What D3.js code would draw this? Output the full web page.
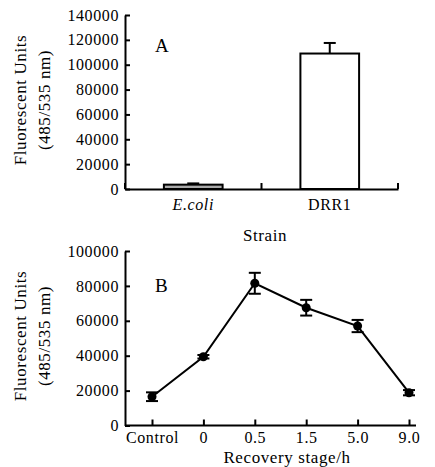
<!DOCTYPE html>
<html>
<head>
<meta charset="utf-8">
<title>Fluorescent units</title>
<script src="https://cdn.jsdelivr.net/npm/d3@7"></script>
<style>
  body { margin: 0; background: #fff; }
</style>
</head>
<body>
<script>
  // panel A data
  const strains = ['E.coli', 'DRR1'];
  const strainValues = [3500, 109000];
  const strainErrors = [1000, 8500];
  const ticksA = [0, 20000, 40000, 60000, 80000, 100000, 120000, 140000];

  // panel B data
  const stages = ['Control', '0', '0.5', '1.5', '5.0', '9.0'];
  const stageValues = [16500, 39400, 81500, 67500, 57000, 18800];
  const stageErrors = [2500, 1000, 6000, 4500, 3500, 1500];
  const ticksB = [0, 20000, 40000, 60000, 80000, 100000];

  const width = 435, height = 467;
  const font = "'Liberation Serif', 'Times New Roman', 'DejaVu Serif', serif";
  const svg = d3.select('body').append('svg')
    .attr('width', width)
    .attr('height', height)
    .attr('font-family', font);

  const fs = 16;

  function styleAxis(g) {
    g.attr('font-family', font);
    g.selectAll('path, line').attr('stroke', '#000').attr('stroke-width', 2);
    g.selectAll('text')
      .style('font-family', font)
      .style('font-size', fs + 'px')
      .style('letter-spacing', '0.6px')
      .attr('fill', '#000');
  }

  function label(x, y, txt, size, anchor) {
    return svg.append('text').attr('x', x).attr('y', y)
      .attr('text-anchor', anchor || 'start')
      .style('font-family', font)
      .style('font-size', size + 'px')
      .style('letter-spacing', '0.6px')
      .text(txt);
  }

  function yTitle(cy) {
    const t = svg.append('g').attr('transform', `translate(0, ${cy}) rotate(-90)`);
    [['Fluorescent Units', 26], ['(485/535 nm)', 50]].forEach(([txt, y]) => {
      t.append('text').attr('x', 0).attr('y', y)
        .attr('text-anchor', 'middle')
        .style('font-family', font)
        .style('font-size', '17px').style('letter-spacing', '0.6px')
        .text(txt);
    });
  }

  // ---------- panel A ----------
  const left = 125;
  const yA = d3.scaleLinear().domain([0, 140000]).range([189, 15]);
  const xA = d3.scaleBand().domain(strains).range([left, 398]);
  const bw = xA.bandwidth();
  const barW = bw * 0.43;

  svg.append('g')
    .attr('transform', `translate(${left},0)`)
    .call(d3.axisLeft(yA).tickValues(ticksA).tickFormat(d3.format('d'))
      .tickSizeInner(-5).tickSizeOuter(0).tickPadding(6))
    .call(styleAxis);

  const gxA = svg.append('g')
    .attr('transform', `translate(0,${yA(0)})`)
    .call(d3.axisBottom(xA).tickSizeInner(0).tickSizeOuter(0).tickPadding(10))
    .call(styleAxis);
  gxA.selectAll('.tick text')
    .style('font-style', d => d === 'E.coli' ? 'italic' : 'normal');

  // ticks on band edges
  const edges = [xA.range()[0]].concat(strains.map(d => xA(d) + bw));
  svg.selectAll('.edgeA').data(edges).enter().append('line')
    .attr('x1', d => d).attr('x2', d => d)
    .attr('y1', yA(0)).attr('y2', yA(0) - 6)
    .attr('stroke', '#000').attr('stroke-width', 2);

  const barsA = strains.map((s, i) => ({ s, v: strainValues[i], e: strainErrors[i] }));

  svg.selectAll('.errA').data(barsA).enter().append('line')
    .attr('x1', d => xA(d.s) + bw / 2).attr('x2', d => xA(d.s) + bw / 2)
    .attr('y1', d => yA(d.v)).attr('y2', d => yA(d.v + d.e))
    .attr('stroke', '#000').attr('stroke-width', 2);
  svg.selectAll('.capA').data(barsA).enter().append('line')
    .attr('x1', d => xA(d.s) + bw / 2 - 6).attr('x2', d => xA(d.s) + bw / 2 + 6)
    .attr('y1', d => yA(d.v + d.e)).attr('y2', d => yA(d.v + d.e))
    .attr('stroke', '#000').attr('stroke-width', 2);

  svg.selectAll('.barA').data(barsA).enter().append('rect')
    .attr('x', d => xA(d.s) + (bw - barW) / 2)
    .attr('width', barW)
    .attr('y', d => yA(d.v))
    .attr('height', d => yA(0) - yA(d.v))
    .attr('fill', (d, i) => i === 0 ? '#aaaaaa' : '#ffffff')
    .attr('stroke', '#000').attr('stroke-width', 2);

  label(155, 52, 'A', 19);
  label(265, 241, 'Strain', 17, 'middle');
  yTitle(100);

  // ---------- panel B ----------
  const yB = d3.scaleLinear().domain([0, 100000]).range([425.5, 251]);
  const xB = d3.scalePoint().domain(stages).range([152, 409]);

  svg.append('g')
    .attr('transform', `translate(${left},0)`)
    .call(d3.axisLeft(yB).tickValues(ticksB).tickFormat(d3.format('d'))
      .tickSizeInner(-5).tickSizeOuter(0).tickPadding(6))
    .call(styleAxis);

  const gxB = svg.append('g')
    .attr('transform', `translate(0,${yB(0)})`)
    .call(d3.axisBottom(xB).tickSizeInner(-6).tickSizeOuter(0).tickPadding(6))
    .call(styleAxis);
  gxB.select('.domain').remove();
  gxB.append('line')
    .attr('x1', left).attr('x2', 416)
    .attr('y1', 0).attr('y2', 0)
    .attr('stroke', '#000').attr('stroke-width', 2);

  const pts = stages.map((s, i) => ({ s, v: stageValues[i], e: stageErrors[i] }));

  svg.append('path').datum(pts)
    .attr('d', d3.line().x(d => xB(d.s)).y(d => yB(d.v)))
    .attr('fill', 'none').attr('stroke', '#000').attr('stroke-width', 2);

  svg.selectAll('.errB').data(pts).enter().append('line')
    .attr('x1', d => xB(d.s)).attr('x2', d => xB(d.s))
    .attr('y1', d => yB(d.v - d.e)).attr('y2', d => yB(d.v + d.e))
    .attr('stroke', '#000').attr('stroke-width', 2);
  ['top', 'bottom'].forEach(side => {
    svg.selectAll('.cap' + side).data(pts).enter().append('line')
      .attr('x1', d => xB(d.s) - 6).attr('x2', d => xB(d.s) + 6)
      .attr('y1', d => yB(side === 'top' ? d.v + d.e : d.v - d.e))
      .attr('y2', d => yB(side === 'top' ? d.v + d.e : d.v - d.e))
      .attr('stroke', '#000').attr('stroke-width', 2);
  });

  svg.selectAll('.dotB').data(pts).enter().append('circle')
    .attr('cx', d => xB(d.s)).attr('cy', d => yB(d.v))
    .attr('r', 4.5).attr('fill', '#000');

  label(155, 292, 'B', 19);
  label(287, 463, 'Recovery stage/h', 17, 'middle');
  yTitle(336);
</script>
</body>
</html>
